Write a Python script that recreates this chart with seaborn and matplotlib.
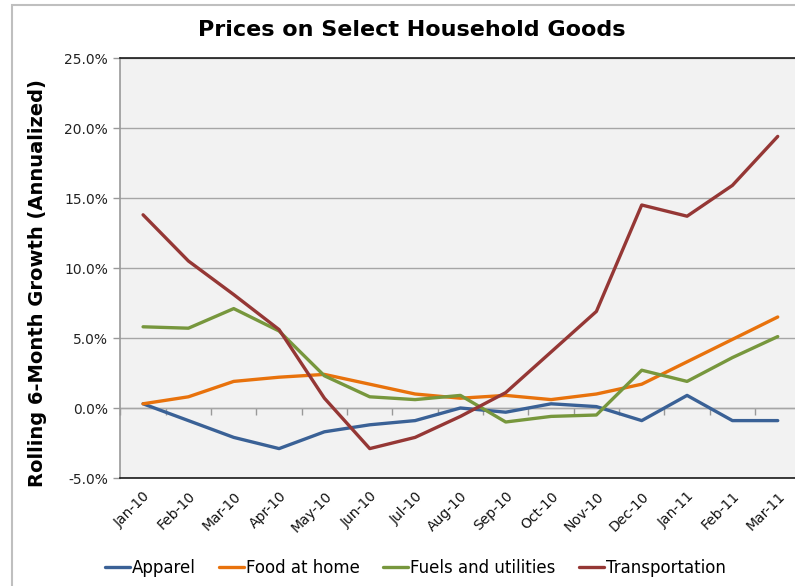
import numpy as np
import pandas as pd
import matplotlib
matplotlib.use('Agg')
import matplotlib.pyplot as plt
import seaborn as sns
from matplotlib.patches import Rectangle
from matplotlib.ticker import PercentFormatter, FixedLocator

months = ["Jan-10", "Feb-10", "Mar-10", "Apr-10", "May-10", "Jun-10", "Jul-10",
          "Aug-10", "Sep-10", "Oct-10", "Nov-10", "Dec-10", "Jan-11", "Feb-11", "Mar-11"]

# rolling 6-month growth, annualized (%)
apparel = [0.3, -0.9, -2.1, -2.9, -1.7, -1.2, -0.9, 0.0, -0.3, 0.3, 0.1, -0.9, 0.9, -0.9, -0.9]
food_at_home = [0.3, 0.8, 1.9, 2.2, 2.4, 1.7, 1.0, 0.7, 0.9, 0.6, 1.0, 1.7, 3.3, 4.9, 6.5]
fuels_utilities = [5.8, 5.7, 7.1, 5.5, 2.3, 0.8, 0.6, 0.9, -1.0, -0.6, -0.5, 2.7, 1.9, 3.6, 5.1]
transportation = [13.8, 10.5, 8.1, 5.6, 0.7, -2.9, -2.1, -0.6, 1.1, 4.0, 6.9, 14.5, 13.7, 15.9, 19.4]

series = ["Apparel", "Food at home", "Fuels and utilities", "Transportation"]
colors = ["#3A6196", "#E8720C", "#77973D", "#953735"]

df = pd.concat([
    pd.DataFrame({"month": months, "growth": vals, "series": name})
    for name, vals in zip(series, [apparel, food_at_home, fuels_utilities, transportation])
])
df["x"] = df["month"].map({m: i for i, m in enumerate(months)})

sns.set_style("white")
plt.rcParams['font.family'] = ['DejaVu Sans']
plt.rcParams['axes.unicode_minus'] = False
plt.rcParams['text.color'] = 'black'

fig = plt.figure(figsize=(7.95, 5.86), dpi=100)
ax = fig.add_axes([120.4 / 795, 108 / 586, 680 / 795, 420 / 586])
ax.set_facecolor("#F2F2F2")

sns.lineplot(data=df, x="x", y="growth", hue="series", palette=colors,
             linewidth=2.4, sort=False, ax=ax, legend=True)

ax.set_xlim(-0.5, len(months) - 0.5)
ax.set_ylim(-5, 25)
ax.set_yticks(np.arange(-5, 26, 5))
ax.yaxis.set_major_formatter(PercentFormatter(decimals=1))
ax.grid(axis="y", color="#A6A6A6", linewidth=1)
ax.set_axisbelow(True)

ax.set_xticks(range(len(months)))
ax.set_xticklabels(months, rotation=45, ha="right", rotation_mode="anchor",
                   fontsize=10, color="#111111")
ax.tick_params(axis="x", length=0, pad=8)
ax.tick_params(axis="y", length=5, width=1, color="#999999", direction="out",
               labelsize=10, labelcolor="#222222", pad=4, left=True)
ax.set_xlabel("")
ax.set_ylabel("")

for side in ["top", "bottom", "right"]:
    ax.spines[side].set_color("#1a1a1a")
    ax.spines[side].set_linewidth(1.2)
ax.spines["left"].set_color("#999999")
ax.spines["left"].set_linewidth(1.2)

# category-boundary tick marks on the zero line
sec = ax.secondary_xaxis(5 / 30)
sec.xaxis.set_major_locator(FixedLocator(np.arange(-0.5, len(months), 1.0)))
sec.set_xticklabels([])
sec.tick_params(axis="x", length=5, width=1, color="#999999", direction="out", pad=0)
sec.spines["bottom"].set_color("#A6A6A6")
sec.spines["bottom"].set_linewidth(1)

handles, labels = ax.get_legend_handles_labels()
ax.legend_.remove()
fig.legend(handles, labels, loc="center", bbox_to_anchor=(415 / 795, 18 / 586),
           ncol=4, frameon=False, handlelength=1.5, handletextpad=0.12,
           columnspacing=1.4, prop={"size": 12})

fig.text(412 / 795, 1 - 30 / 586, "Prices on Select Household Goods",
         ha="center", va="center", fontsize=16, fontweight="bold")
fig.text(38 / 795, 1 - 283 / 586, "Rolling 6-Month Growth (Annualized)",
         ha="center", va="center", rotation=90, fontsize=14, fontweight="bold")

fig.patches.append(Rectangle((12 / 795, -0.1), 1.2, 1 - 5 / 586 + 0.1,
                             transform=fig.transFigure, fill=False,
                             edgecolor="#BFBFBF", linewidth=1.5))

fig.savefig("out.png", dpi=100)
